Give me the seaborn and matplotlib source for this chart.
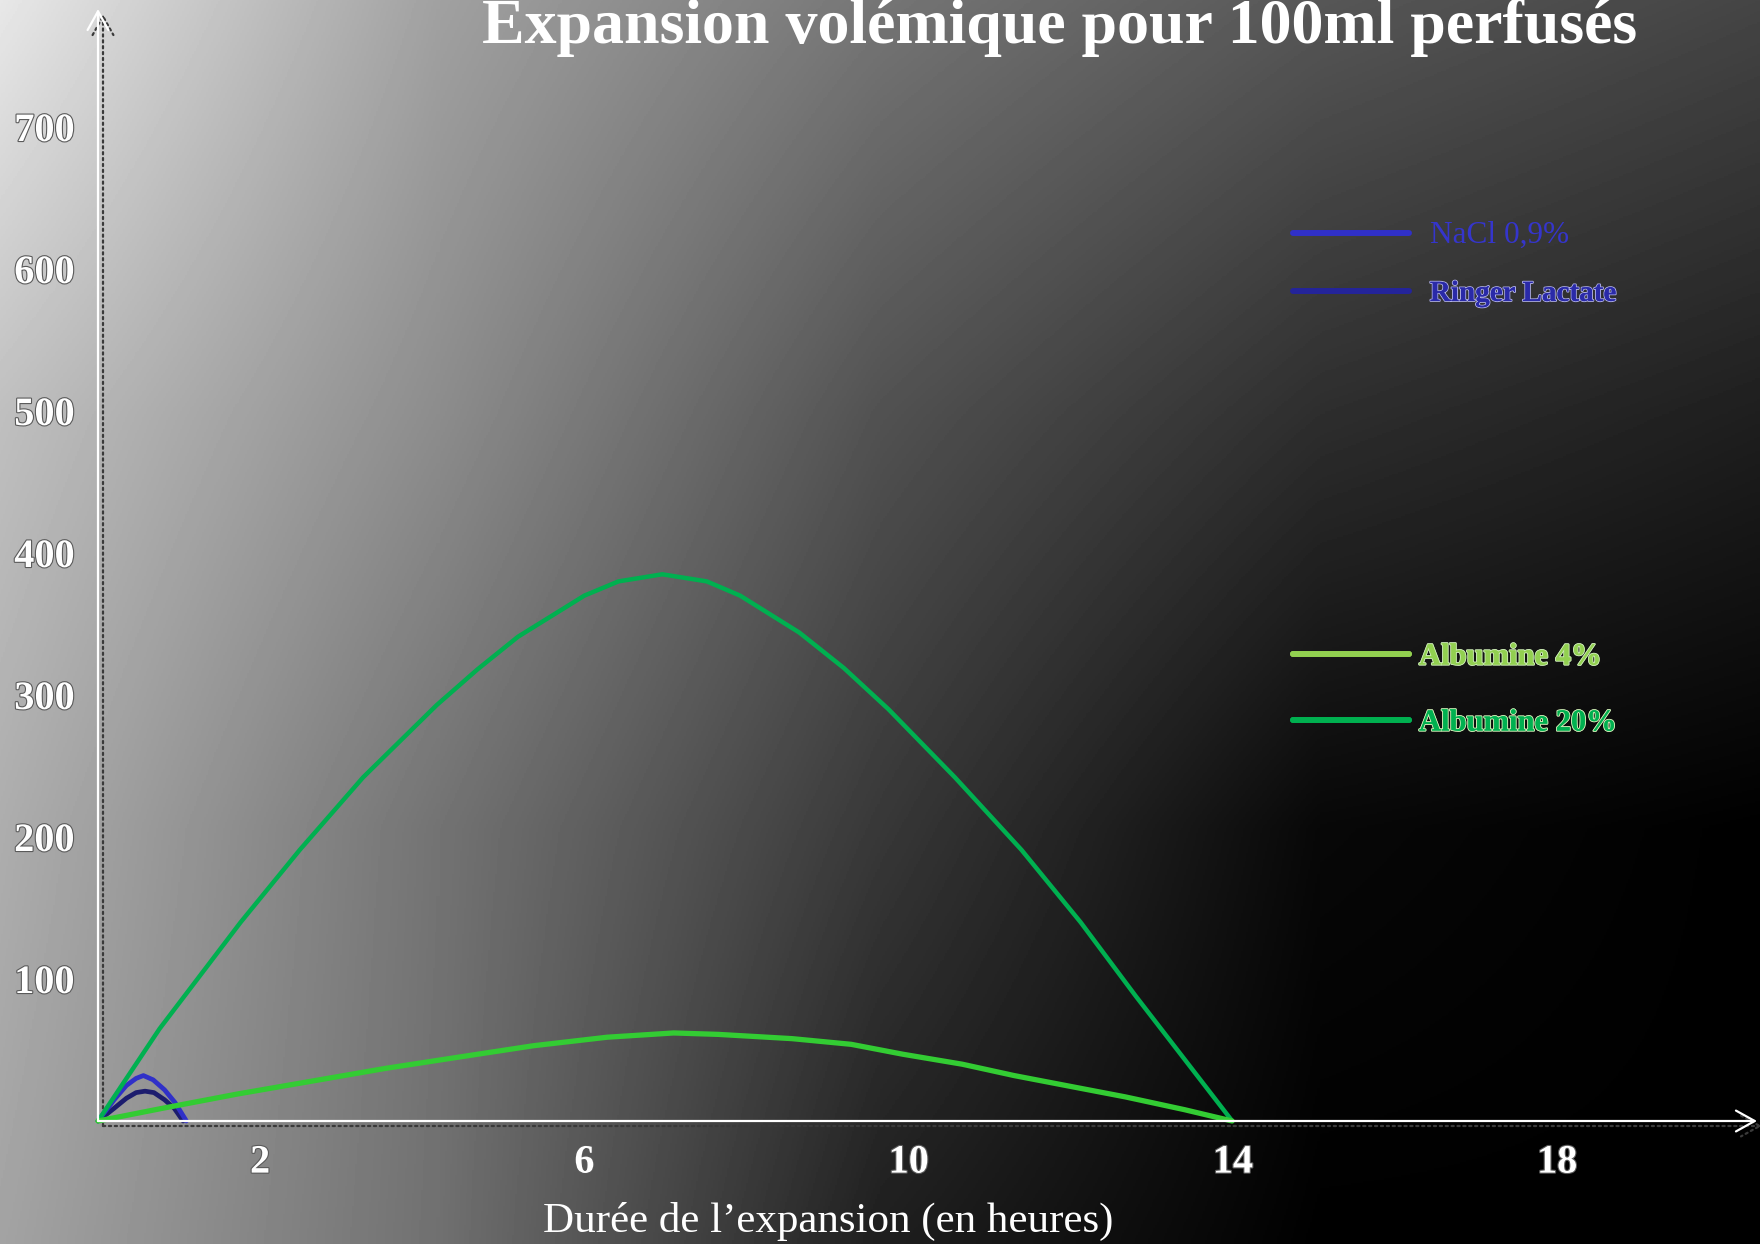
import numpy as np
import pandas as pd
import matplotlib
matplotlib.use("Agg")
import matplotlib.pyplot as plt
import matplotlib.patheffects as pe
from matplotlib.lines import Line2D
from matplotlib.transforms import offset_copy
import seaborn as sns

# ---- chart content -------------------------------------------------------
title = "Expansion volémique pour 100ml perfusés"
x_label = "Durée de l’expansion (en heures)"
x_ticks = [2, 6, 10, 14, 18]
y_ticks = [100, 200, 300, 400, 500, 600, 700]

# drawing order: crystalloids below, albumin curves on top
series_names = ["Ringer Lactate", "NaCl 0,9%", "Albumine 20%", "Albumine 4%"]

ringer_hours = [0, 0.20, 0.35, 0.47, 0.58, 0.69, 0.82, 0.94, 1.05]
ringer_volume = [0, 9, 16, 20, 21, 20, 15, 9, 0]

nacl_hours = [0, 0.20, 0.35, 0.47, 0.56, 0.68, 0.82, 0.95, 1.09]
nacl_volume = [0, 15, 25, 30, 32, 29, 22, 13, 0]

alb20_hours = [0, 0.76, 1.76, 2.49, 3.27, 4.18, 4.68, 5.18, 6.00, 6.42, 6.96,
               7.51, 7.92, 8.65, 9.20, 9.75, 10.57, 11.39, 12.12, 12.80, 13.49, 13.99]
alb20_volume = [0, 65, 140, 191, 242, 293, 318, 341, 370, 380, 385,
                380, 370, 344, 319, 290, 242, 191, 140, 88, 37, 0]

alb4_hours = [0, 0.80, 1.72, 2.63, 3.54, 4.45, 5.37, 6.28, 7.10, 7.65, 8.56,
              9.29, 9.93, 10.66, 11.30, 12.03, 12.67, 13.40, 13.99]
alb4_volume = [0, 9, 19, 28, 37, 45, 53, 59, 62, 61, 58,
               54, 47, 40, 32, 24, 17, 8, 0]

curve_colors = {
    "Ringer Lactate": "#1C1C6E",
    "NaCl 0,9%": "#3030C8",
    "Albumine 20%": "#00B050",
    "Albumine 4%": "#33CC33",
}
curve_widths = {
    "Ringer Lactate": 3.4,
    "NaCl 0,9%": 3.4,
    "Albumine 20%": 3.2,
    "Albumine 4%": 3.8,
}
legend_line_colors = {
    "NaCl 0,9%": "#3030C8",
    "Ringer Lactate": "#24249A",
    "Albumine 4%": "#92D050",
    "Albumine 20%": "#00B050",
}
legend_text_colors = {
    "NaCl 0,9%": "#3535CC",
    "Ringer Lactate": "#2A2AA8",
    "Albumine 4%": "#92D050",
    "Albumine 20%": "#00B050",
}

frames = []
for name, hrs, vol in [
    ("Ringer Lactate", ringer_hours, ringer_volume),
    ("NaCl 0,9%", nacl_hours, nacl_volume),
    ("Albumine 20%", alb20_hours, alb20_volume),
    ("Albumine 4%", alb4_hours, alb4_volume),
]:
    frames.append(pd.DataFrame({"heures": hrs, "volume": vol, "soluté": name}))
data = pd.concat(frames, ignore_index=True)

# ---- style ---------------------------------------------------------------
sns.set_style("white")
serif = ["Liberation Serif", "DejaVu Serif"]
plt.rcParams["font.family"] = serif

W, H = 1760, 1244
fig = plt.figure(figsize=(W / 100, H / 100), dpi=100)
fig.patch.set_facecolor("black")

# gradient backdrop: light grey top-left fading to black bottom-right
bg = fig.add_axes([0, 0, 1, 1], zorder=0)
shade = np.array([
    [0.91, 0.63, 0.46, 0.34, 0.27],
    [0.75, 0.55, 0.32, 0.18, 0.12],
    [0.68, 0.45, 0.22, 0.03, 0.00],
    [0.64, 0.44, 0.12, 0.00, 0.00],
])
bg.imshow(shade, cmap="gray", vmin=0, vmax=1, interpolation="bilinear",
          extent=[-220, W + 220, H + 207, -207], aspect="auto", origin="upper")
bg.set_xlim(0, W)
bg.set_ylim(H, 0)
bg.axis("off")

# plotting area: origin at (98, 1121) px, 81.07 px per hour, 1.42 px per ml
ox, oy, right, top = 98, 1121, 1757, 9
ax = fig.add_axes([ox / W, 1 - oy / H, (right - ox) / W, (oy - top) / H], zorder=1)
ax.patch.set_alpha(0)
ax.set_xlim(0, (right - ox) / 81.07)
ax.set_ylim(0, (oy - top) / 1.42)

sns.lineplot(data=data, x="heures", y="volume", hue="soluté",
             hue_order=series_names, palette=curve_colors, units="soluté",
             estimator=None, sort=False, linewidth=3.4, legend=False, ax=ax)
for ln, name in zip(ax.lines, series_names):
    ln.set_linewidth(curve_widths[name])
    ln.set_solid_capstyle("round")
    ln.set_solid_joinstyle("round")
    ln.set_clip_on(False)

for s in ax.spines.values():
    s.set_visible(False)

# axes drawn as arrows, with a dotted dark shadow
shadow_tr = offset_copy(ax.transAxes, fig=fig, x=5, y=-5, units="dots")
for tr, col, ls, z in [(shadow_tr, "#3a3a3a", ":", 1), (ax.transAxes, "white", "-", 2)]:
    for tip in [(1, 0), (0, 1)]:
        ax.annotate("", xy=tip, xytext=(0, 0), xycoords=tr, textcoords=tr,
                    arrowprops=dict(arrowstyle="->,head_length=0.45,head_width=0.25",
                                    color=col, lw=1.6, linestyle=ls,
                                    mutation_scale=30, shrinkA=0, shrinkB=0),
                    annotation_clip=False, zorder=z)

ax.set_xticks(x_ticks)
ax.set_yticks(y_ticks)
ax.tick_params(axis="both", length=0)
ax.tick_params(axis="x", pad=17)
ax.tick_params(axis="y", pad=17)
outline = [pe.withStroke(linewidth=1.6, foreground="#5a5a5a")]
for lab in ax.get_xticklabels() + ax.get_yticklabels():
    lab.set_fontfamily(serif)
    lab.set_fontweight("bold")
    lab.set_fontsize(29)
    lab.set_color("white")
    lab.set_path_effects(outline)

ax.set_xlabel(x_label, fontsize=31, color="white", family=serif)
ax.set_ylabel("")
ax.xaxis.set_label_coords((828 - ox) / (right - ox), -(1221 - oy) / (oy - top))
ax.xaxis.label.set_va("center")

fig.text(1060 / W, 1 - 43 / H, title, ha="center", va="baseline",
         fontsize=46, fontweight="bold", color="white", family=serif)

# two legend groups: crystalloids (top) and albumin (middle)
def add_group(names, center_y, textpad, spacing, sizes, weights):
    handles = [Line2D([], [], color=legend_line_colors[n], lw=4.3) for n in names]
    leg = ax.legend(handles, names, loc="center left",
                    bbox_to_anchor=(1293 / W, 1 - center_y / H),
                    bbox_transform=fig.transFigure, frameon=False,
                    prop={"family": serif, "size": 21},
                    handlelength=3.97, handletextpad=textpad,
                    labelspacing=spacing, borderpad=0, borderaxespad=0)
    for txt, n, sz, w in zip(leg.get_texts(), names, sizes, weights):
        txt.set_color(legend_text_colors[n])
        txt.set_fontweight(w)
        txt.set_fontsize(sz)
        if w == "bold":
            glow = "#b0b0e8" if n == "Ringer Lactate" else "#c8e8b0"
            txt.set_path_effects([pe.withStroke(linewidth=1.4, foreground=glow),
                                  pe.Normal()])
    ax.add_artist(leg)
    return leg

add_group(["NaCl 0,9%", "Ringer Lactate"], 264, 0.72, 1.02, [22.5, 21], ["normal", "bold"])
add_group(["Albumine 4%", "Albumine 20%"], 690, 0.35, 1.27, [22, 22], ["bold", "bold"])

fig.savefig("out.png", dpi=100, facecolor=fig.get_facecolor())
